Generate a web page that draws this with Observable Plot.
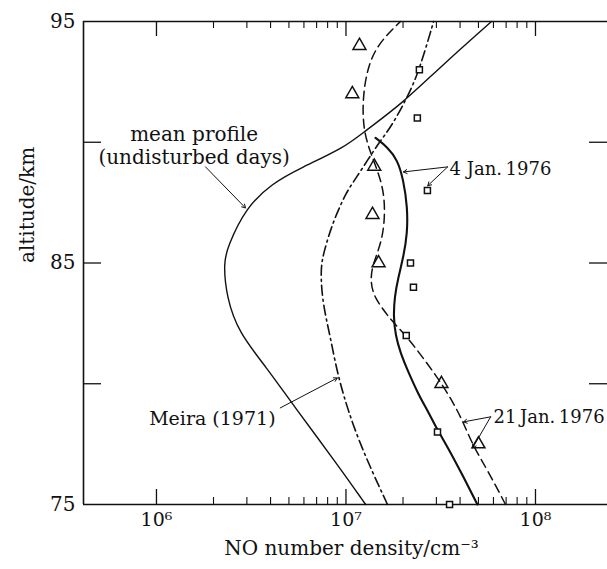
<!DOCTYPE html>
<html><head><meta charset="utf-8">
<script src="https://cdn.jsdelivr.net/npm/d3@7"></script>
<script src="https://cdn.jsdelivr.net/npm/@observablehq/plot@0.6"></script>
<style>body{margin:0;background:#fff} svg{display:block}</style>
</head><body><div id="chart"></div>
<script>
// mean profile (undisturbed days)
const meanDensity = [5.86e7, 3.23e7, 1.94e7, 1.236e7, 9.9e6, 5.75e6, 4.09e6, 2.95e6, 2.37e6, 2.26e6, 2.34e6, 2.72e6, 3.80e6, 5.35e6, 8.9e6, 1.27e7];
const meanAlt     = [95, 93.2, 91.54, 90.42, 89.8, 88.93, 88.31, 87.28, 85.66, 85.0, 83.59, 82.1, 80.69, 79.04, 76.72, 75];
// Meira (1971)
const meiraDensity = [2.90e7, 2.44e7, 2.14e7, 1.72e7, 1.52e7, 1.096e7, 1.019e7, 8.59e6, 7.60e6, 7.33e6, 7.52e6, 8.28e6, 9.12e6, 1.151e7, 1.656e7];
const meiraAlt     = [95, 92.99, 91.96, 90.59, 90.09, 88.35, 88.02, 86.78, 85.41, 84.71, 83.34, 81.94, 80.16, 77.67, 75];
// 21 Jan. 1976 (dashed)
const jan21Density = [1.94e7, 1.486e7, 1.297e7, 1.222e7, 1.236e7, 1.346e7, 1.56e7, 1.614e7, 1.56e7, 1.38e7, 1.346e7, 1.396e7, 1.758e7, 2.11e7, 3.04e7, 3.69e7, 4.17e7, 4.71e7, 5.58e7, 6.95e7];
const jan21Alt     = [95, 94.11, 93.12, 91.75, 90.51, 89.55, 88.31, 87.19, 85.95, 84.92, 84.3, 83.59, 82.56, 81.94, 80.28, 79.21, 78.38, 77.39, 76.43, 75];
// 4 Jan. 1976 (thick solid)
const jan4Density = [1.432e7, 1.656e7, 1.871e7, 2.01e7, 2.11e7, 2.11e7, 2.01e7, 1.89e7, 1.803e7, 1.782e7, 1.824e7, 1.94e7, 2.11e7, 2.42e7, 2.69e7, 3.04e7, 3.44e7, 4.17e7, 4.94e7];
const jan4Alt     = [90.18, 89.8, 89.27, 88.44, 87.32, 86.24, 85.25, 84.42, 83.59, 82.76, 82.02, 81.27, 80.57, 79.53, 78.91, 78.08, 77.38, 76.14, 75];
// measured points
const triDensity = [1.178e7, 1.08e7, 1.41e7, 1.38e7, 1.486e7, 3.19e7, 5.0e7];
const triAlt     = [94, 92, 89, 87, 85, 80, 77.5];
const sqDensity  = [2.44e7, 2.38e7, 2.69e7, 2.19e7, 2.27e7, 2.08e7, 3.04e7, 3.52e7];
const sqAlt      = [93, 91, 88, 85, 84, 82, 78, 75];
// axis ticks
const majorTicks = [1e6, 1e7, 1e8];
const majorLabels = ["10⁶", "10⁷", "10⁸"];
const minorTicks = [2e6,3e6,4e6,5e6,6e6,7e6,8e6,9e6,2e7,3e7,4e7,5e7,6e7,7e7,8e7,9e7];
const yLabelTicks = [95, 85, 75];
const yInnerTicks = [90, 85, 80];
// annotations (density, altitude)
const labels = [
  {text: "mean profile", x: 1.58e6, y: 90.3, anchor: "middle"},
  {text: "(undisturbed days)", x: 1.58e6, y: 89.35, anchor: "middle"},
  {text: "4 Jan.\u20091976", x: 3.52e7, y: 88.9, anchor: "start"},
  {text: "21\u2009Jan.\u20091976", x: 6.0e7, y: 78.62, anchor: "start"},
  {text: "Meira (1971)", x: 4.25e6, y: 78.54, anchor: "end"}
];
const leaders = [
  {x1: 1.815e6, y1: 88.98, x2: 2.95e6, y2: 87.28},
  {x1: 3.44e7, y1: 88.98, x2: 2.01e7, y2: 88.77},
  {x1: 3.44e7, y1: 88.98, x2: 2.70e7, y2: 88.2},
  {x1: 5.8e7, y1: 78.63, x2: 4.17e7, y2: 78.42},
  {x1: 5.8e7, y1: 78.63, x2: 4.66e7, y2: 77.34},
  {x1: 4.5e6, y1: 79.0, x2: 9.0e6, y2: 80.24}
];

const zip = (xs, ys) => xs.map((x, i) => ({x, y: ys[i]})).sort((a, b) => a.y - b.y);
const W = 607, H = 569, mL = 83, mR = 0, mT = 21, mB = 65;
const fw = W - mL - mR, fh = H - mT - mB;
const xDomain = [Math.pow(10, 5.615), Math.pow(10, 8.38)];
const font = "DejaVu Serif";
const ink = "#111";
const curve = "basis";

const chart = Plot.plot({
  width: W, height: H,
  marginLeft: mL, marginRight: mR, marginTop: mT, marginBottom: mB,
  style: {fontFamily: font, background: "#fff", color: ink},
  x: {type: "log", domain: xDomain, axis: null},
  y: {domain: [75, 95], axis: null},
  marks: [
    // frame (no right border)
    Plot.ruleY([75, 95], {stroke: ink, strokeWidth: 1.6}),
    Plot.ruleX([xDomain[0]], {stroke: ink, strokeWidth: 1.6}),
    // x ticks, inward
    Plot.ruleX(minorTicks, {insetTop: fh - 7, stroke: ink, strokeWidth: 1.1}),
    Plot.ruleX(minorTicks, {insetBottom: fh - 7, stroke: ink, strokeWidth: 1.1}),
    Plot.ruleX(majorTicks, {insetTop: fh - 15, stroke: ink, strokeWidth: 1.3}),
    Plot.ruleX(majorTicks, {insetBottom: fh - 15, stroke: ink, strokeWidth: 1.3}),
    // y ticks, inward both sides
    Plot.ruleY(yInnerTicks, {insetRight: fw - 18, stroke: ink, strokeWidth: 1.3}),
    Plot.ruleY(yInnerTicks, {insetLeft: fw - 18, stroke: ink, strokeWidth: 1.3}),
    // tick labels
    Plot.text(majorTicks, {x: d => d, text: (d, i) => majorLabels[i], frameAnchor: "bottom", dy: 21, fontSize: 19}),
    Plot.text(yLabelTicks, {y: d => d, text: d => String(d), frameAnchor: "left", textAnchor: "end", dx: -8, fontSize: 20}),
    // axis titles
    Plot.text(["altitude/km"], {frameAnchor: "left", dx: -56, rotate: -90, fontSize: 20}),
    Plot.text(["NO number density/cm⁻³"], {frameAnchor: "bottom", dx: 6, dy: 50, fontSize: 20}),
    // curves
    Plot.line(zip(meanDensity, meanAlt), {x: "x", y: "y", curve, stroke: ink, strokeWidth: 1.4}),
    Plot.line(zip(meiraDensity, meiraAlt), {x: "x", y: "y", curve, stroke: ink, strokeWidth: 1.6, strokeDasharray: "10,4,2,4"}),
    Plot.line(zip(jan21Density, jan21Alt), {x: "x", y: "y", curve, stroke: ink, strokeWidth: 1.5, strokeDasharray: "9,5"}),
    Plot.line(zip(jan4Density, jan4Alt), {x: "x", y: "y", curve, stroke: ink, strokeWidth: 2.1}),
    // data points
    Plot.dot(zip(triDensity, triAlt), {x: "x", y: "y", symbol: "triangle", r: 4.8, stroke: ink, strokeWidth: 1.5, fill: "none"}),
    Plot.dot(zip(sqDensity, sqAlt), {x: "x", y: "y", symbol: "square", r: 3.4, stroke: ink, strokeWidth: 1.5, fill: "#fff"}),
    // leaders
    Plot.arrow(leaders, {x1: "x1", y1: "y1", x2: "x2", y2: "y2", stroke: ink, strokeWidth: 1, headLength: 6}),
    // annotation text
    Plot.text(labels, {filter: d => d.anchor === "middle", x: "x", y: "y", text: "text", textAnchor: "middle", fontSize: 20, fill: ink}),
    Plot.text(labels, {filter: d => d.anchor === "start", x: "x", y: "y", text: "text", textAnchor: "start", fontSize: 18, fill: ink}),
    Plot.text(labels, {filter: d => d.anchor === "end", x: "x", y: "y", text: "text", textAnchor: "end", fontSize: 19, fill: ink})
  ]
});
document.getElementById("chart").append(chart);
</script></body></html>
